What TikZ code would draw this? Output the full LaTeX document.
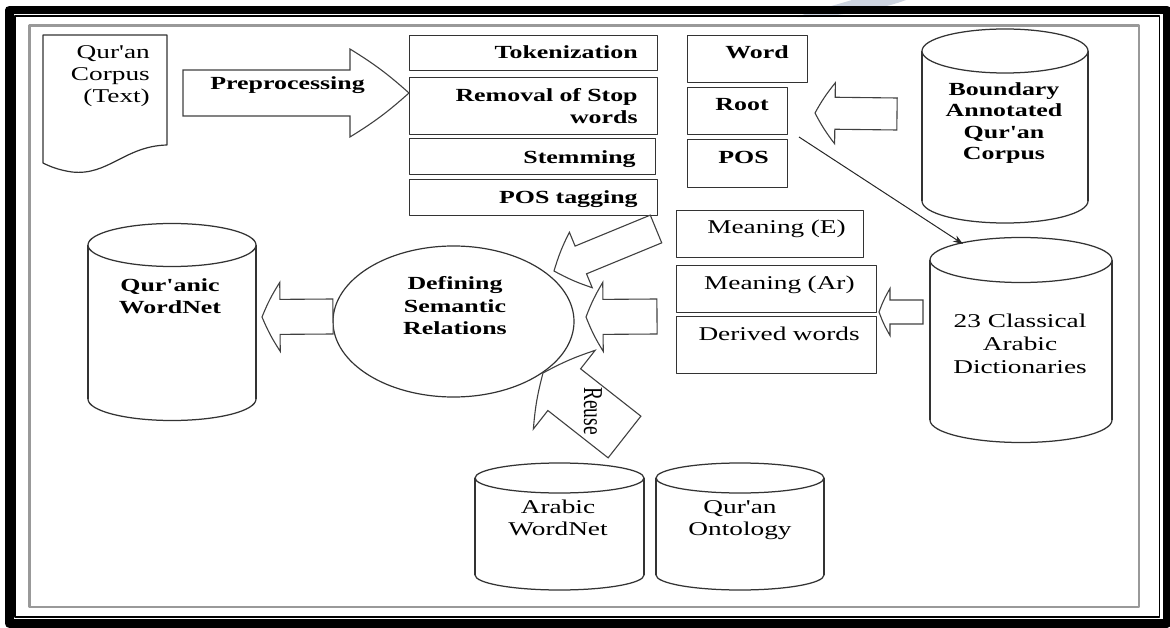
\documentclass[tikz,border=0pt]{standalone}
\usepackage{fontspec}
\usetikzlibrary{calc,arrows.meta,shapes.geometric}

% Times-like serif, set wide
\newfontfamily\widefamily{Liberation Serif}[FakeStretch=1.4,Ligatures=TeXOff]
\newfontfamily\narrowfamily{Liberation Serif}[Ligatures=TeXOff]
\newcommand\lblreg{\widefamily\fontsize{19.5}{22}\selectfont}
\newcommand\lblbold{\widefamily\bfseries\fontsize{18.5}{21.5}\selectfont}

\definecolor{swoosh}{RGB}{205,212,224}

% block arrow: [style] tail, tip, shaft half-width, head half-width, head length
\newcommand\fatarrow[6][]{%
  \coordinate (fa-base) at ($(#3)!#6pt!(#2)$);
  \draw[fatline,#1] ($(#2)!#4pt!90:(#3)$) -- ($(fa-base)!#4pt!90:(#3)$)
    -- ($(fa-base)!#5pt!90:(#3)$) to[bend left=5] (#3)
    to[bend left=5] ($(fa-base)!#5pt!-90:(#3)$) -- ($(fa-base)!#4pt!-90:(#3)$)
    -- ($(#2)!#4pt!-90:(#3)$) -- cycle;
}

% database drum: name, centre x, lid y, base y, x radius, y radius
\newcommand\drum[6]{%
  \fill[white] (#2-#5,#3) rectangle (#2+#5,#4);
  \fill[white] (#2,#4) ellipse[x radius=#5pt,y radius=#6pt];
  \draw[drumline] (#2-#5,#3) -- (#2-#5,#4) (#2+#5,#3) -- (#2+#5,#4);
  \begin{scope}
    \clip (#2-#5-4,#4) rectangle (#2+#5+4,#4+#6+4);
    \draw[drumline] (#2,#4) ellipse[x radius=#5pt,y radius=#6pt];
  \end{scope}
  \draw[drumline, fill=white] (#2,#3) ellipse[x radius=#5pt,y radius=#6pt];
  \coordinate (#1) at (#2,#3-#6);
}

\tikzset{
  stepbox/.style={draw=black!80, line width=1.3pt, fill=white, anchor=north west,
    inner ysep=0pt, align=right},
  drumline/.style={draw=black!80, line width=1.25pt},
  fatline/.style={draw=black!75, line width=1.1pt, fill=white, line join=miter},
  docline/.style={draw=black!80, line width=1.2pt, fill=white},
  thinarrow/.style={draw=black!85, line width=1pt, -{Stealth[length=10pt,width=7pt]}},
  caption/.style={inner sep=0pt, text=black}
}

\begin{document}
\begin{tikzpicture}[x=1pt, y=-1pt, line join=round]
\useasboundingbox (0,0) rectangle (1170,628);

% faint mark behind the border
\fill[swoosh] (797,17) .. controls (830,18) and (880,10) .. (906,0) -- (852,0)
  .. controls (832,6) and (812,11) .. (797,17) -- cycle;

% page border: thick outer, thin inner, grey frame
\draw[line width=8.5pt] (9.25,10) rectangle (1167,623.5);
\draw[line width=1.4pt] (15,16) rectangle (1159.5,617);
\draw[gray!80, line width=2.5pt] (29.5,25.5) rectangle (1139,607);

% source document
\draw[docline] (43,35) -- (167,35) -- (167,145)
  .. controls (125,146) and (108,176) .. (72,172)
  .. controls (58,170) and (49,166) .. (43,163) -- cycle;
\node[caption, font=\lblreg, align=right, anchor=east] (corpus) at (150,76.6)
  {Qur'an\\Corpus\\(Text)};

% preprocessing steps
\node[stepbox, font=\lblbold, minimum width=248pt, minimum height=35pt, inner xsep=20pt,
  text width=208pt, text height=23pt, text depth=12pt] (tok) at (409,35) {Tokenization};
\node[stepbox, font=\lblbold, minimum width=248pt, minimum height=57pt, inner xsep=20pt,
  text width=208pt] (rem) at (409,77) {Removal of Stop\\words};
\node[stepbox, font=\lblbold, minimum width=246pt, minimum height=36pt, inner xsep=20pt,
  text width=206pt, text height=25pt, text depth=11pt] (stem) at (409,138) {Stemming};
\node[stepbox, font=\lblbold, minimum width=248pt, minimum height=36pt, inner xsep=20pt,
  text width=208pt, text height=24pt, text depth=12pt] (postag) at (409,179) {POS tagging};

% word fields
\node[stepbox, font=\lblbold, minimum width=120pt, minimum height=47pt, inner xsep=19pt,
  text width=82pt, text height=23pt, text depth=24pt] (word) at (687,35) {Word};
\node[stepbox, font=\lblbold, minimum width=100pt, minimum height=47pt, inner xsep=19pt,
  text width=62pt, text height=23pt, text depth=24pt] (root) at (687,87) {Root};
\node[stepbox, font=\lblbold, minimum width=100pt, minimum height=48pt, inner xsep=19pt,
  text width=62pt, text height=24pt, text depth=24pt] (pos) at (687,139) {POS};

% dictionary fields
\node[stepbox, font=\lblreg, minimum width=187pt, minimum height=47pt, inner xsep=18pt,
  text width=151pt, text height=23pt, text depth=24pt] (meanE) at (676,210) {\mbox{Meaning (E)}};
\node[stepbox, font=\lblreg, minimum width=200pt, minimum height=47pt, inner xsep=22pt,
  text width=156pt, text height=24pt, text depth=23pt] (meanAr) at (676,265) {\mbox{Meaning (Ar)}};
\node[stepbox, font=\lblreg, minimum width=200pt, minimum height=57pt, inner xsep=17pt,
  text width=166pt, text height=24pt, text depth=33pt] (derived) at (676,316) {\mbox{Derived words}};

% databases
\drum{bnd}{1005}{51}{201}{83}{22}
\node[caption, font=\lblbold, align=center] (boundary) at (1004,123)
  {Boundary\\Annotated\\Qur'an\\Corpus};
\drum{dic}{1021}{260}{420}{91}{22.5}
\node[caption, font={\widefamily\fontsize{19.5}{23}\selectfont}, align=center] (dict) at (1020,344)
  {23 Classical\\Arabic\\Dictionaries};
\drum{qwn}{172}{245}{399}{84}{21.5}
\node[caption, font=\lblbold, align=center] (qwntext) at (170,296) {Qur'anic\\WordNet};
\drum{awn}{559.5}{478}{575}{84.5}{15}
\node[caption, font=\lblreg, align=center] (awntext) at (558,518) {Arabic\\WordNet};
\drum{qon}{740}{478}{575}{84}{15}
\node[caption, font=\lblreg, align=center] (qontext) at (740,520) {Qur'an\\Ontology};

% central process
\node[draw=black!80, line width=1.2pt, ellipse, minimum width=241pt, minimum height=151pt,
  inner sep=0pt] (define) at (453.5,321.5) {};
\node[caption, font={\widefamily\bfseries\fontsize{18.5}{22.5}\selectfont}, align=center]
  (definetext) at (455,306) {Defining\\Semantic\\Relations};

% block arrows
\coordinate (prepT) at (183,93);   \coordinate (prepH) at (409,93);
\fatarrow{prepT}{prepH}{23}{44}{59}
\node[caption, font=\lblbold, anchor=base] (preplabel) at (287.5,90) {Preprocessing};

\coordinate (bndT) at (897,114);   \coordinate (bndH) at (815,113);
\fatarrow{bndT}{bndH}{16}{30.5}{20}

\coordinate (dicT) at (923,312);   \coordinate (dicH) at (879,312);
\fatarrow{dicT}{dicH}{12}{23.5}{11}

\coordinate (outT) at (333,316.5); \coordinate (outH) at (262,317);
\fatarrow{outT}{outH}{17.5}{34.5}{18}

\coordinate (midT) at (657,316.5); \coordinate (midH) at (586,317);
\fatarrow{midT}{midH}{17.5}{34.5}{17}

\coordinate (tagT) at (656,229);   \coordinate (tagH) at (554,271);
\fatarrow{tagT}{tagH}{15}{30}{29}

\coordinate (reuT) at (624.5,437); \coordinate (reuH) at (543,373);
\fatarrow{reuT}{reuH}{26.5}{50}{27}
\node[caption, rotate=-90] (reuselabel) at (593,411)
  {\scalebox{1}[1.4]{\narrowfamily\fontsize{19.5}{22}\selectfont Reuse}};

% root lookup in the dictionaries
\coordinate (rootlink) at (799,137); \coordinate (dictlink) at (963,244);
\draw[thinarrow] (rootlink) -- (dictlink);

\end{tikzpicture}
\end{document}
